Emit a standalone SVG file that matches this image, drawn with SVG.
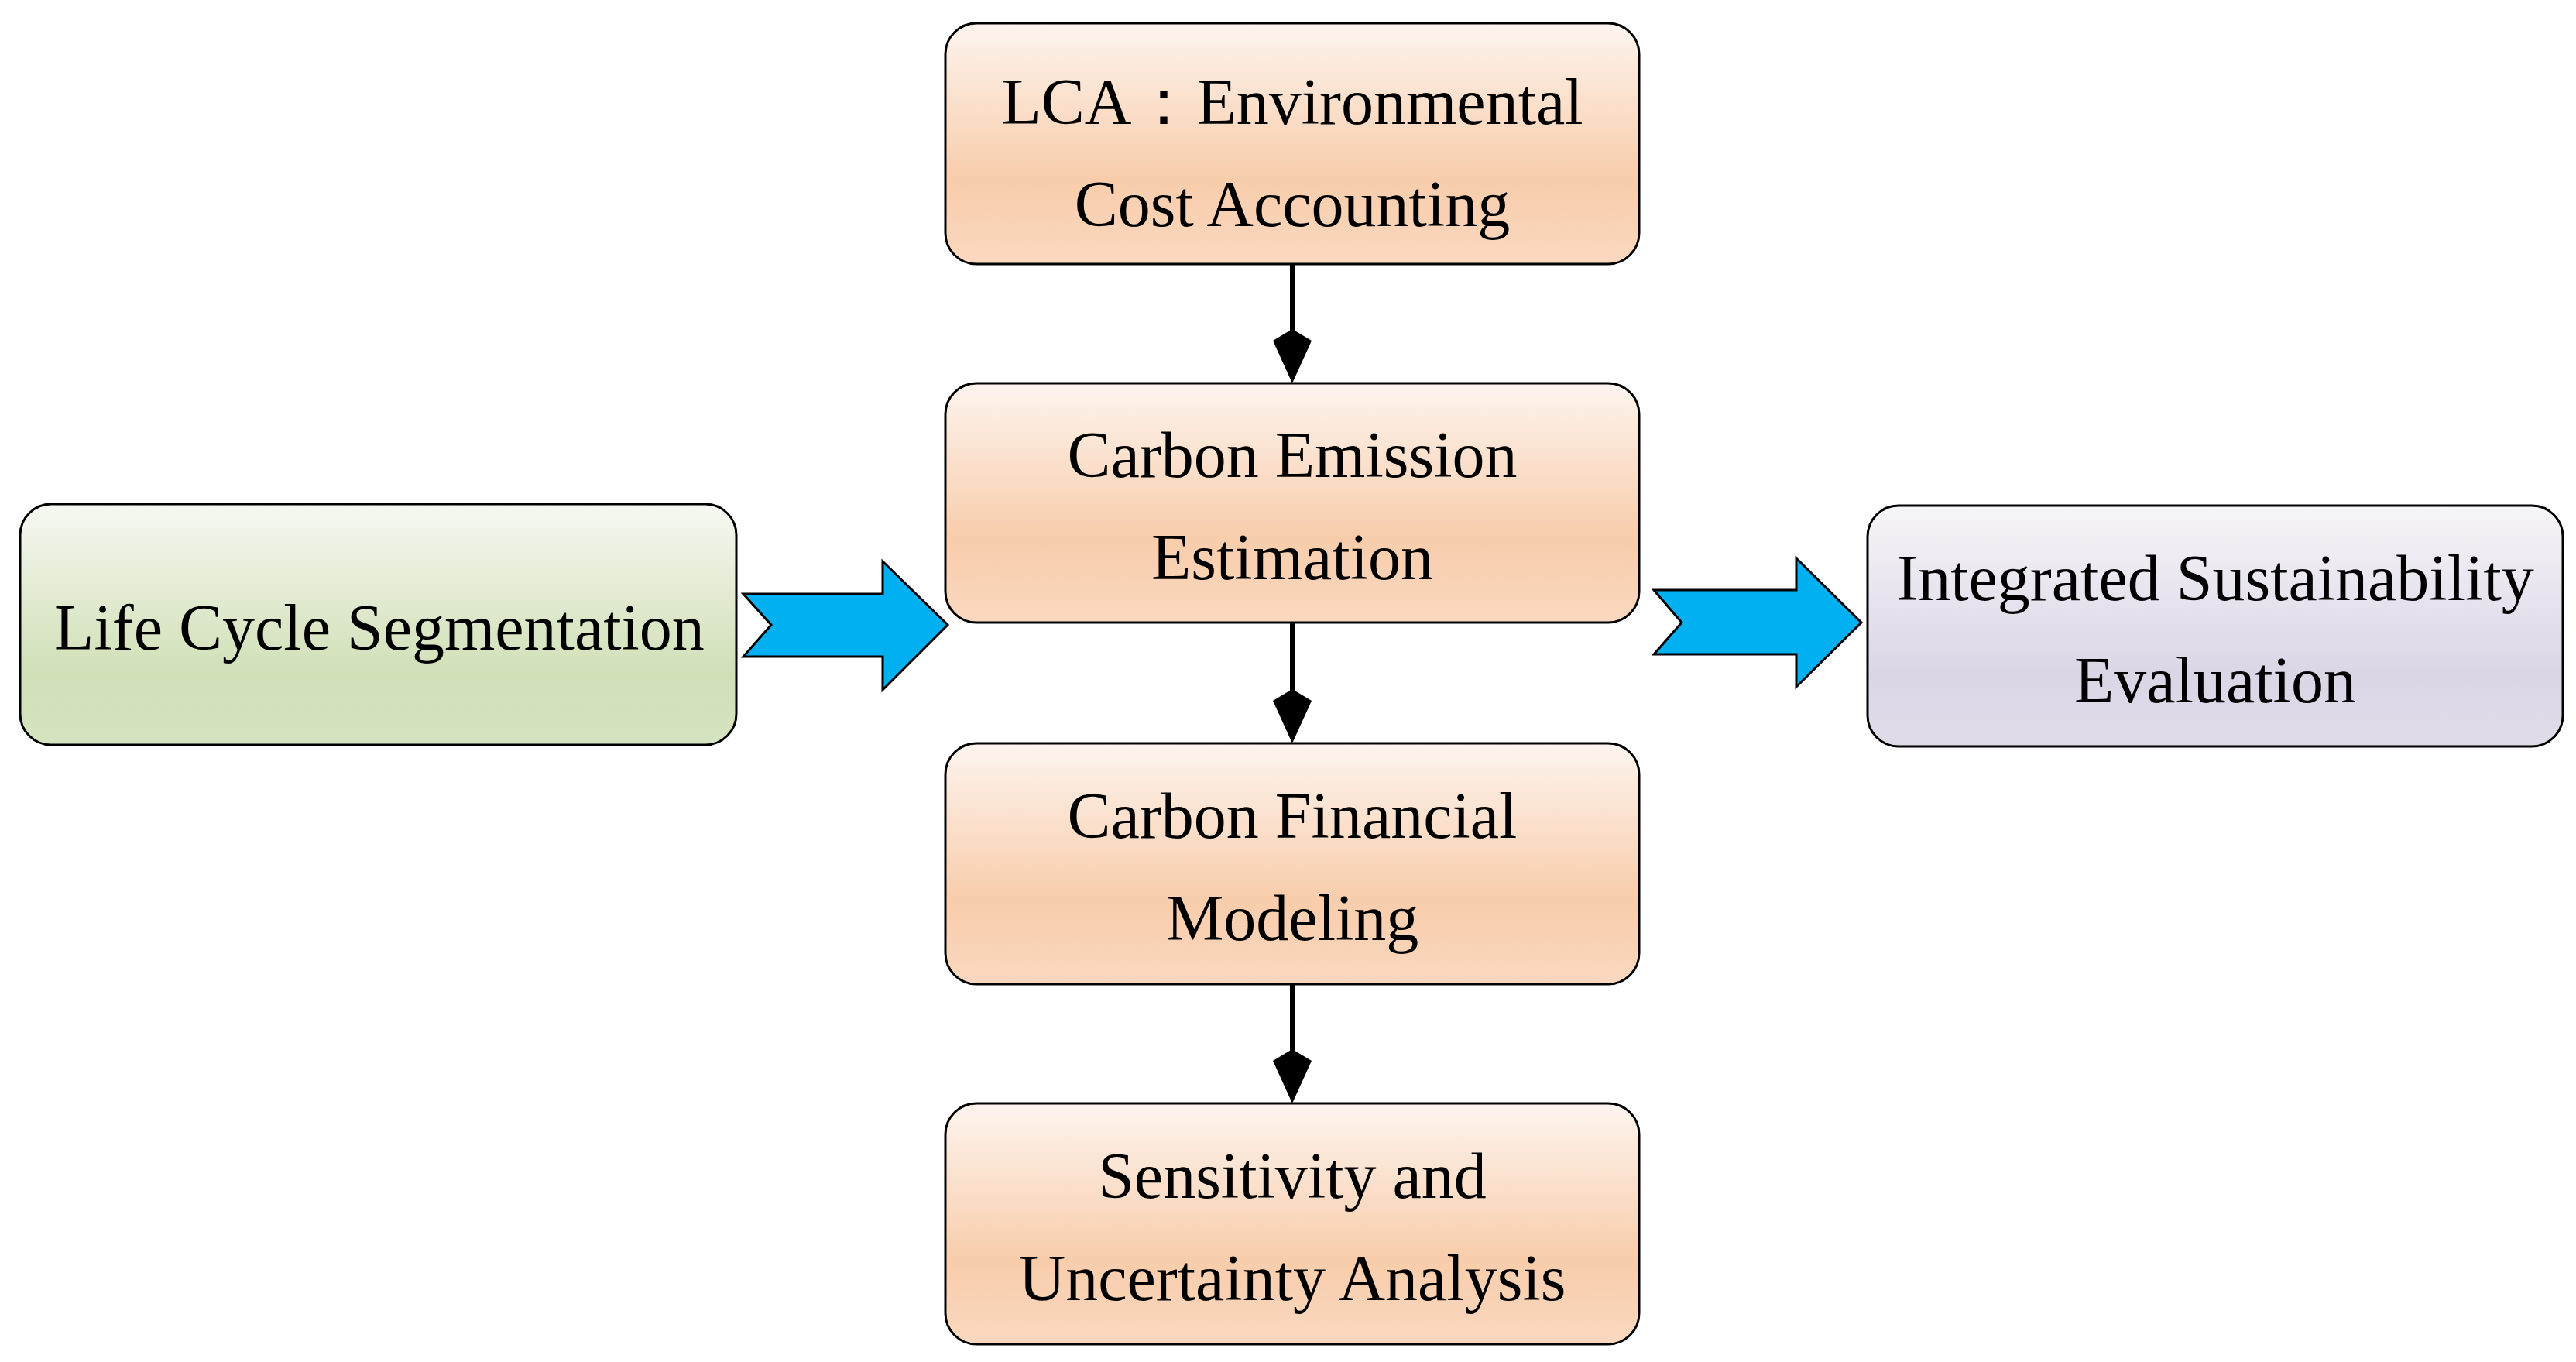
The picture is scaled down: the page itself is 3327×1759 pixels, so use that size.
<svg xmlns="http://www.w3.org/2000/svg" width="3327" height="1759" viewBox="0 0 3327 1759">
<style>
.box{stroke:#000;stroke-width:3}
.t{font-family:"Liberation Serif","Times New Roman",serif;font-size:84px;fill:#000;text-anchor:middle}
.ln{stroke:#000;stroke-width:6;fill:none}
.chev{fill:#00b0f0;stroke:#000;stroke-width:3}
</style>
<defs>
<linearGradient id="go" x1="0" y1="0" x2="0" y2="1"><stop offset="0" stop-color="#fdf4ee"/><stop offset="0.65" stop-color="#f8cdab"/><stop offset="1" stop-color="#fad8c0"/></linearGradient>
<linearGradient id="gg" x1="0" y1="0" x2="0" y2="1"><stop offset="0" stop-color="#f6f8f2"/><stop offset="0.7" stop-color="#d1e0b7"/><stop offset="1" stop-color="#d6e3c0"/></linearGradient>
<linearGradient id="gp" x1="0" y1="0" x2="0" y2="1"><stop offset="0" stop-color="#f6f5f8"/><stop offset="0.7" stop-color="#dcd5e6"/><stop offset="1" stop-color="#e1dbe9"/></linearGradient>
<marker id="ah" markerUnits="userSpaceOnUse" markerWidth="60" markerHeight="70" refX="25" refY="60" orient="auto-start-reverse" viewBox="0 0 50 70"><path d="M0,15 L8,5 L25,0 L42,5 L50,15 L25,60 Z" transform="translate(0,0)" fill="#000"/></marker>
</defs>
<g id="n1"><rect class="box" x="1221" y="30" width="896" height="311" rx="40" fill="url(#go)"/><text class="t" x="1669" y="160">LCA：Environmental</text><text class="t" x="1669" y="292">Cost Accounting</text></g>
<g id="n2"><rect class="box" x="1221" y="495" width="896" height="309" rx="40" fill="url(#go)"/><text class="t" x="1669" y="616">Carbon Emission</text><text class="t" x="1669" y="748">Estimation</text></g>
<g id="n3"><rect class="box" x="1221" y="960" width="896" height="311" rx="40" fill="url(#go)"/><text class="t" x="1669" y="1082">Carbon Financial</text><text class="t" x="1669" y="1214">Modeling</text></g>
<g id="n4"><rect class="box" x="1221" y="1425" width="896" height="311" rx="40" fill="url(#go)"/><text class="t" x="1669" y="1547">Sensitivity and</text><text class="t" x="1669" y="1679">Uncertainty Analysis</text></g>
<g id="n5"><rect class="box" x="26" y="651" width="925" height="311" rx="40" fill="url(#gg)"/><text class="t" x="490" y="839">Life Cycle Segmentation</text></g>
<g id="n6"><rect class="box" x="2412" y="653" width="898" height="311" rx="40" fill="url(#gp)"/><text class="t" x="2861" y="775">Integrated Sustainability</text><text class="t" x="2861" y="907">Evaluation</text></g>
<g id="connectors">
<line class="ln" x1="1669" y1="341" x2="1669" y2="435"/>
<path d="M1669,495 L1644,440 L1669,425 L1694,440 Z" fill="#000"/>
<line class="ln" x1="1669" y1="804" x2="1669" y2="900"/>
<path d="M1669,960 L1644,905 L1669,890 L1694,905 Z" fill="#000"/>
<line class="ln" x1="1669" y1="1271" x2="1669" y2="1365"/>
<path d="M1669,1425 L1644,1370 L1669,1355 L1694,1370 Z" fill="#000"/>
<path class="chev" d="M960,767 L1140,767 L1140,725 L1224,807 L1140,891 L1140,848 L960,848 L996,807 Z"/>
<path class="chev" d="M2136,762 L2320,762 L2320,721 L2404,804 L2320,887 L2320,845 L2136,845 L2172,804 Z"/>
</g>
</svg>
